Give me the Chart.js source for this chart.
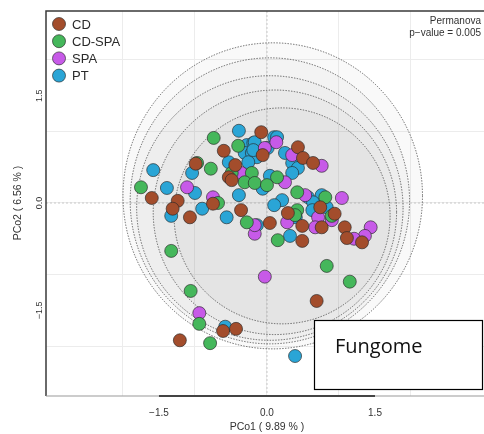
<!DOCTYPE html>
<html>
<head>
<meta charset="utf-8">
<script src="https://cdn.jsdelivr.net/npm/chart.js@4.4.0/dist/chart.umd.min.js"></script>
<style>
  html, body { margin: 0; padding: 0; background: #fff; overflow: hidden; }
  #wrap { width: 484px; height: 434px; position: relative; }
</style>
</head>
<body>
<div id="wrap"><canvas id="pcoa"></canvas></div>
<script>
// Группы и точки PCoA (PCo1, PCo2)
const groupNames = ["CD", "CD-SPA", "SPA", "PT"]

const cdPoints = [
  [-0.60, 0.73], [-0.44, 0.53], [-0.99, 0.55], [-0.53, 0.36], [-0.49, 0.32],
  [-1.60, 0.07], [-0.75, -0.01], [-1.24, 0.03], [-1.31, -0.08], [-0.36, -0.10],
  [-1.07, -0.20], [-0.08, 0.99], [-0.06, 0.67], [0.43, 0.78], [0.50, 0.63],
  [0.64, 0.56], [0.74, -0.06], [0.29, -0.14], [0.94, -0.15], [0.76, -0.34],
  [0.04, -0.28], [0.49, -0.32], [0.49, -0.53], [1.08, -0.34], [1.11, -0.49],
  [1.32, -0.55], [0.69, -1.37], [-0.61, -1.79], [-0.43, -1.76], [-1.21, -1.92]
]

const cdSpaPoints = [
  [-0.74, 0.91], [-0.40, 0.80], [-0.97, 0.56], [-0.78, 0.48], [-0.49, 0.42],
  [-0.21, 0.42], [-0.31, 0.29], [-0.17, 0.28], [-1.75, 0.22], [-0.68, 0.00],
  [-0.28, -0.27], [0.14, 0.36], [0.00, 0.25], [0.42, 0.15], [0.81, 0.08],
  [0.42, -0.10], [0.90, -0.18], [0.15, -0.52], [-1.33, -0.67], [0.83, -0.88],
  [1.15, -1.10], [-1.06, -1.23], [-0.94, -1.69], [-0.79, -1.96], [0.39, -0.17]
]

const spaPoints = [
  [-0.36, 0.42], [-1.11, 0.22], [-0.75, 0.08], [-0.17, -0.43], [0.13, 0.85],
  [-0.03, 0.77], [0.35, 0.67], [0.76, 0.52], [0.25, 0.29], [0.53, 0.11],
  [1.04, 0.07], [0.71, -0.20], [0.28, -0.27], [0.90, -0.24], [0.67, -0.34],
  [1.44, -0.34], [1.36, -0.46], [1.21, -0.50], [-0.03, -1.03], [-0.94, -1.54],
  [-0.17, -0.31]
]

const ptPoints = [
  [-0.39, 1.01], [-0.28, 0.81], [-0.19, 0.84], [-0.31, 0.70], [-0.21, 0.70],
  [-0.14, 0.64], [-0.26, 0.57], [-0.53, 0.57], [-1.04, 0.42], [-1.58, 0.46],
  [-1.39, 0.21], [-1.00, 0.14], [-0.39, 0.11], [-0.90, -0.08], [-1.33, -0.18],
  [-0.56, -0.20], [-0.14, -0.31], [0.10, 0.92], [0.14, 0.92], [-0.17, 0.85],
  [-0.19, 0.74], [0.01, 0.77], [0.25, 0.70], [0.35, 0.56], [0.43, 0.49],
  [0.35, 0.42], [0.04, 0.38], [-0.06, 0.20], [0.57, 0.08], [0.76, 0.11],
  [0.21, 0.04], [0.10, -0.03], [0.64, 0.01], [0.83, -0.06], [0.63, -0.10],
  [0.40, -0.20], [0.32, -0.46], [-0.58, -1.73], [0.39, -2.14]
]

// Эллипсы: центр x, центр y, радиус x, радиус y (в единицах осей)
const ellipses = [
  [0.08, 0.10, 2.08, 2.14],
  [0.04, 0.03, 1.94, 2.00],
  [0.04, -0.07, 1.85, 1.85],
  [0.11, -0.13, 1.69, 1.71],
  [0.21, -0.18, 1.50, 1.51]
]

const tickLabels = [-1.5, 0, 1.5]
const gridValues = [-2, -1, 0, 1, 2]

const xTitle = "PCo1 ( 9.89 % )"
const yTitle = "PCo2 ( 6.56 % )"
const statLines = ["Permanova", "p\u2212value = 0.005"]
const boxLabel = "Fungome"

const colors = ["#a34d2c", "#45b75b", "#c75ae8", "#2aa5d6"]
const allPoints = [cdPoints, cdSpaPoints, spaPoints, ptPoints]

const datasets = groupNames.map((name, i) => ({
  label: name,
  data: allPoints[i].map(p => ({ x: p[0], y: p[1] })),
  backgroundColor: colors[i],
  borderColor: "rgba(40, 40, 40, 0.65)",
  borderWidth: 1,
  pointRadius: 6.5,
  pointHoverRadius: 6.5
}))

const fmt = v => v === 0 ? "0.0" : (v < 0 ? "\u2212" : "") + Math.abs(v).toFixed(1)

// Рисуем всё, чего нет в стандартном Chart.js
const overlay = {
  id: "overlay",
  beforeDatasetsDraw(chart) {
    const { ctx, chartArea: a, scales: { x, y } } = chart
    ctx.save()
    ctx.beginPath()
    ctx.rect(a.left, a.top, a.right - a.left, a.bottom - a.top)
    ctx.clip()

    // нулевые линии
    ctx.strokeStyle = "#c8c8c8"
    ctx.lineWidth = 1
    ctx.setLineDash([2, 2])
    ctx.beginPath()
    ctx.moveTo(a.left, y.getPixelForValue(0))
    ctx.lineTo(a.right, y.getPixelForValue(0))
    ctx.moveTo(x.getPixelForValue(0), a.top)
    ctx.lineTo(x.getPixelForValue(0), a.bottom)
    ctx.stroke()

    // эллипсы
    ellipses.forEach(e => {
      const cx = x.getPixelForValue(e[0])
      const cy = y.getPixelForValue(e[1])
      const rx = Math.abs(x.getPixelForValue(e[0] + e[2]) - cx)
      const ry = Math.abs(y.getPixelForValue(e[1] + e[3]) - cy)
      ctx.beginPath()
      ctx.ellipse(cx, cy, rx, ry, 0, 0, Math.PI * 2)
      ctx.setLineDash([])
      ctx.fillStyle = "rgba(150, 150, 150, 0.055)"
      ctx.fill()
      ctx.setLineDash([1.4, 1.4])
      ctx.strokeStyle = "rgba(60, 60, 60, 0.85)"
      ctx.lineWidth = 0.9
      ctx.stroke()
    })
    ctx.restore()
  },
  afterDraw(chart) {
    const { ctx, chartArea: a, scales: { x, y } } = chart
    ctx.save()

    // рамка
    ctx.setLineDash([])
    ctx.strokeStyle = "#3a3a3a"
    ctx.lineWidth = 1.5
    ctx.beginPath()
    ctx.moveTo(a.right, a.top)
    ctx.lineTo(a.left, a.top)
    ctx.lineTo(a.left, a.bottom)
    ctx.stroke()
    ctx.strokeStyle = "#9a9a9a"
    ctx.lineWidth = 1.2
    ctx.beginPath()
    ctx.moveTo(a.left, a.bottom)
    ctx.lineTo(a.right, a.bottom)
    ctx.stroke()
    ctx.strokeStyle = "#444"
    ctx.lineWidth = 2
    ctx.beginPath()
    ctx.moveTo(x.getPixelForValue(-1.5), a.bottom)
    ctx.lineTo(x.getPixelForValue(1.5), a.bottom)
    ctx.stroke()

    // подписи делений
    ctx.fillStyle = "#333"
    ctx.font = "10px 'Liberation Sans', Arial, sans-serif"
    ctx.textAlign = "center"
    ctx.textBaseline = "alphabetic"
    tickLabels.forEach(v => ctx.fillText(fmt(v), x.getPixelForValue(v), a.bottom + 20))
    tickLabels.forEach(v => {
      ctx.save()
      ctx.translate(a.left - 4, y.getPixelForValue(v))
      ctx.rotate(-Math.PI / 2)
      ctx.font = "9px 'Liberation Sans', Arial, sans-serif"
      ctx.fillText(fmt(v), 0, 0)
      ctx.restore()
    })

    // названия осей
    ctx.font = "10.5px 'Liberation Sans', Arial, sans-serif"
    ctx.fillText(xTitle, x.getPixelForValue(0), a.bottom + 34)
    ctx.save()
    ctx.translate(21, y.getPixelForValue(0))
    ctx.rotate(-Math.PI / 2)
    ctx.fillText(yTitle, 0, 0)
    ctx.restore()

    // Permanova
    ctx.textAlign = "right"
    ctx.font = "10px 'Liberation Sans', Arial, sans-serif"
    ctx.fillText(statLines[0], 481, 24)
    ctx.fillText(statLines[1], 481, 36)

    // легенда
    ctx.textAlign = "left"
    ctx.textBaseline = "middle"
    ctx.font = "13px 'Liberation Sans', Arial, sans-serif"
    chart.data.datasets.forEach((ds, i) => {
      const ly = 24 + i * 17.2
      ctx.beginPath()
      ctx.arc(59, ly, 6.5, 0, Math.PI * 2)
      ctx.fillStyle = ds.backgroundColor
      ctx.fill()
      ctx.strokeStyle = "rgba(40, 40, 40, 0.65)"
      ctx.lineWidth = 1
      ctx.stroke()
      ctx.fillStyle = "#2a2a2a"
      ctx.fillText(ds.label, 72, ly + 1)
    })

    // вставка Fungome
    ctx.fillStyle = "#fff"
    ctx.fillRect(314, 320, 169, 70)
    ctx.strokeStyle = "#000"
    ctx.lineWidth = 1.2
    ctx.strokeRect(314.5, 320.5, 168, 69)
    ctx.fillStyle = "#111"
    ctx.textBaseline = "alphabetic"
    ctx.font = "20px 'Open Sans', sans-serif"
    ctx.fillText(boxLabel, 335, 353)
    ctx.restore()
  }
}

new Chart(document.getElementById("pcoa"), {
  type: "scatter",
  data: { datasets },
  options: {
    responsive: true,
    maintainAspectRatio: false,
    animation: false,
    layout: { autoPadding: false, padding: { top: 11, right: 0, left: 0, bottom: 0 } },
    plugins: {
      legend: { display: false },
      tooltip: { enabled: false }
    },
    scales: {
      x: {
        type: "linear",
        min: -3.069,
        max: 3.014,
        afterBuildTicks: s => { s.ticks = gridValues.map(v => ({ value: v })) },
        afterFit: s => { s.height = 38 },
        ticks: { display: false },
        grid: { color: "#ececec", lineWidth: 1, drawTicks: false },
        border: { display: false }
      },
      y: {
        type: "linear",
        min: -2.699,
        max: 2.685,
        afterBuildTicks: s => { s.ticks = gridValues.map(v => ({ value: v })) },
        afterFit: s => { s.width = 46 },
        ticks: { display: false },
        grid: { color: "#ececec", lineWidth: 1, drawTicks: false },
        border: { display: false }
      }
    }
  },
  plugins: [overlay]
})
</script>
</body>
</html>
